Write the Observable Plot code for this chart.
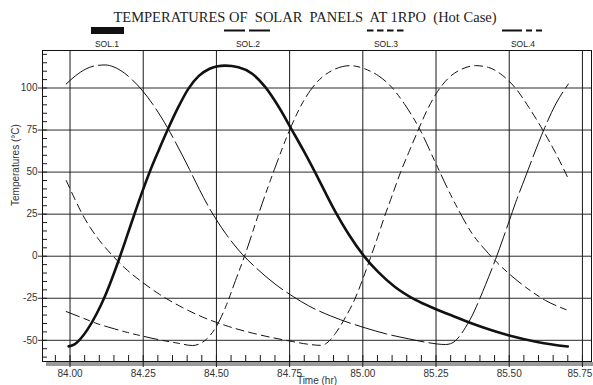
<!DOCTYPE html>
<html>
<head>
<meta charset="utf-8">
<script src="https://cdn.jsdelivr.net/npm/d3@7"></script>
<script src="https://cdn.jsdelivr.net/npm/@observablehq/plot@0.6"></script>
<style>
  html, body { margin: 0; padding: 0; background: #fff; }
  #wrap { position: relative; width: 593px; height: 385px; overflow: hidden; background: #fff; }
  #header { position: absolute; left: 0; top: 0; z-index: 2; }
  #chart { position: absolute; left: 0; top: 46px; z-index: 1; }
</style>
</head>
<body>
<div id="wrap">
  <svg id="header" width="593" height="50" xmlns="http://www.w3.org/2000/svg">
    <text x="305" y="22" text-anchor="middle" font-family="'Liberation Serif', 'Times New Roman', serif" font-size="14.5" fill="#222" xml:space="preserve">TEMPERATURES OF  SOLAR  PANELS  AT 1RPO  (Hot Case)</text>
    <g font-family="'Liberation Sans', Arial, sans-serif" font-size="8.5" fill="#222" text-anchor="middle">
      <rect x="91" y="27" width="33" height="7" fill="#111"></rect>
      <text x="107" y="46.5">SOL.1</text>
      <line x1="224" y1="30.5" x2="270" y2="30.5" stroke="#111" stroke-width="2" stroke-dasharray="21,4"></line>
      <text x="248" y="46.5">SOL.2</text>
      <line x1="367" y1="30.5" x2="403.5" y2="30.5" stroke="#111" stroke-width="2" stroke-dasharray="6.5,3.5"></line>
      <text x="386" y="46.5">SOL.3</text>
      <line x1="502" y1="30.5" x2="542" y2="30.5" stroke="#111" stroke-width="2" stroke-dasharray="20,4,6,4,6,40"></line>
      <text x="523" y="46.5">SOL.4</text>
    </g>
  </svg>
  <div id="chart"></div>
</div>
<script>
// ---- data: [time (hr), temperature (°C)] ----
const xTicks = [84.00, 84.25, 84.50, 84.75, 85.00, 85.25, 85.50, 85.75];
const yTicks = [-50, -25, 0, 25, 50, 75, 100];

const sol1 = [
  [83.995, -53.6], [84.015, -52.4], [84.031, -50], [84.060, -43.5], [84.090, -34.5],
  [84.120, -23.5], [84.145, -12.5], [84.171, 0], [84.195, 12.2], [84.219, 24.5],
  [84.245, 37.5], [84.273, 50.5], [84.303, 63], [84.333, 75], [84.368, 88],
  [84.404, 99.5], [84.440, 107.2], [84.475, 111.3], [84.500, 112.8], [84.530, 113.3],
  [84.575, 112.4], [84.622, 108.5], [84.667, 100.5], [84.712, 89], [84.758, 75],
  [84.800, 62], [84.838, 49.5], [84.870, 38.5], [84.906, 26.5], [84.950, 13.5],
  [85.002, 0.5], [85.053, -9.5], [85.110, -18.3], [85.180, -26], [85.250, -31.5],
  [85.310, -35.7], [85.373, -40], [85.440, -44], [85.500, -47.1], [85.600, -51.1],
  [85.700, -53.7]
];
const sol2 = [
  [83.987, 102.4], [84.019, 107.3], [84.054, 111.3], [84.088, 113.3], [84.120, 113.7],
  [84.150, 112.5], [84.174, 110.3], [84.213, 104.8], [84.248, 98.3], [84.282, 90.5],
  [84.311, 82.8], [84.333, 76.4], [84.360, 67.8], [84.385, 59.5], [84.408, 51.6],
  [84.442, 39.6], [84.476, 28.5], [84.505, 20.3], [84.531, 13.6], [84.556, 7.8],
  [84.588, 1.2], [84.639, -7.5], [84.700, -16.5], [84.764, -24.2], [84.815, -29.5],
  [84.890, -35.5], [84.957, -39.8], [85.008, -42.6], [85.080, -46.2], [85.156, -49.1],
  [85.213, -51.1], [85.282, -52.5], [85.300, -52], [85.316, -50.3], [85.335, -46.5],
  [85.350, -42.5], [85.373, -35.5], [85.400, -25], [85.419, -17], [85.453, -2],
  [85.480, 11], [85.500, 21], [85.522, 32], [85.555, 47], [85.579, 58],
  [85.619, 75.5], [85.659, 90.5], [85.702, 102.4]
];
const sol3 = [
  [83.987, 45], [84.015, 34.5], [84.042, 25], [84.070, 16.8], [84.100, 9.5],
  [84.145, 0.4], [84.191, -7.6], [84.248, -15.6], [84.305, -22.6], [84.385, -30.6],
  [84.453, -36.2], [84.533, -41.3], [84.644, -46.6], [84.750, -50.4], [84.820, -52.5],
  [84.855, -53], [84.872, -52.2], [84.890, -49.5], [84.906, -46], [84.940, -36.5],
  [84.974, -25], [85.000, -13.5], [85.026, -1], [85.050, 11], [85.074, 23.5],
  [85.100, 36], [85.128, 49.5], [85.160, 63], [85.188, 74.5], [85.220, 87],
  [85.250, 96.5], [85.293, 106], [85.339, 111.3], [85.385, 113.3], [85.430, 112.2],
  [85.477, 107.5], [85.522, 99.8], [85.567, 88.5], [85.613, 75.5], [85.655, 62.5],
  [85.702, 46]
];
const sol4 = [
  [83.987, -32.9], [84.040, -36.5], [84.088, -39.8], [84.140, -42.6], [84.191, -45.1],
  [84.250, -47.6], [84.305, -49.7], [84.365, -51.6], [84.419, -53.1], [84.440, -52.3],
  [84.465, -49.5], [84.499, -42], [84.533, -29.5], [84.565, -14.5], [84.599, 1.5],
  [84.644, 25.1], [84.701, 53], [84.750, 75], [84.792, 90.5], [84.838, 102.4],
  [84.894, 110.3], [84.957, 113.3], [85.008, 111.3], [85.053, 107.3], [85.099, 100.4],
  [85.144, 90], [85.191, 76.6], [85.250, 54.9], [85.293, 39], [85.328, 27.1],
  [85.373, 13.5], [85.419, 3.6], [85.453, -2.8], [85.500, -10.5], [85.556, -18.4],
  [85.624, -26.3], [85.702, -32.3]
];

const toRows = (arr) => arr.map(([t, v]) => ({t, v}));

// ---- layout ----
const W = 593, H = 339, mL = 42, mR = 2, mT = 4, mB = 24;
const plotW = W - mL - mR, plotH = H - mT - mB;
const xDomain = [83.906, 85.781];
const yDomain = [-62.6, 122.3];
const minorX = d3.range(0, 37).map(i => +(83.95 + i * 0.05).toFixed(2));
const minorY = d3.range(-60, 121, 5);
const ink = "#111";
const fmtX = d => d.toFixed(2);

const chart = Plot.plot({
  width: W, height: H,
  marginLeft: mL, marginRight: mR, marginTop: mT, marginBottom: mB,
  style: {fontFamily: "'Liberation Sans', Arial, sans-serif", fontSize: "10px", color: "#333", background: "transparent", overflow: "visible"},
  x: {domain: xDomain, axis: null},
  y: {domain: yDomain, ticks: yTicks, tickFormat: d => String(d), tickSize: 0, tickPadding: 5, label: null},
  marks: [
    Plot.ruleY([yDomain[0]], {stroke: "#9b9b9b", strokeWidth: 4, dy: 2.5, dx: 4}),
    Plot.ruleY(yTicks, {stroke: "#2a2a2a", insetLeft: -4}),
    Plot.ruleX(xTicks, {stroke: "#1a1a1a", insetBottom: -6}),
    Plot.ruleX(minorX, {stroke: "#1a1a1a", insetTop: plotH - 6}),
    Plot.ruleY(minorY, {stroke: "#1a1a1a", insetRight: plotW - 5}),
    Plot.line(toRows(sol2), {x: "t", y: "v", stroke: ink, strokeWidth: 1, strokeDasharray: "33,5", curve: "monotone-x"}),
    Plot.line(toRows(sol3), {x: "t", y: "v", stroke: ink, strokeWidth: 1, strokeDasharray: "8,5", curve: "monotone-x"}),
    Plot.line(toRows(sol4), {x: "t", y: "v", stroke: ink, strokeWidth: 1, strokeDasharray: "14,5,6,5,6,5", curve: "monotone-x"}),
    Plot.line(toRows(sol1), {x: "t", y: "v", stroke: ink, strokeWidth: 2.6, curve: "monotone-x"}),
    Plot.frame({stroke: ink}),
    Plot.text(xTicks.slice(0, -1), {x: d => d, text: fmtX, frameAnchor: "bottom", lineAnchor: "top", dy: 8, fontSize: 10, fill: "#333"}),
    Plot.text(xTicks.slice(-1), {x: d => d, text: fmtX, frameAnchor: "bottom", lineAnchor: "top", dy: 8, dx: -2.5, fontSize: 10, fill: "#333"}),
    Plot.text(["Temperatures (°C)"], {text: d => d, frameAnchor: "left", dx: -27, rotate: -90, fontSize: 10, fill: "#333"}),
    Plot.text(["Time (hr)"], {text: d => d, frameAnchor: "bottom", dy: 22, fontSize: 10, fill: "#333"})
  ]
});
document.getElementById("chart").appendChild(chart);
</script>
</body>
</html>
